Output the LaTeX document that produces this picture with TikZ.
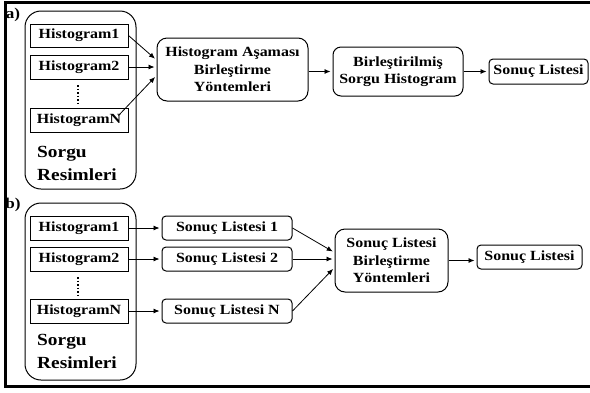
\documentclass[tikz,border=0pt]{standalone}
\usepackage{fontspec}
\setmainfont{Liberation Serif}[FakeStretch=1.14]
\usetikzlibrary{arrows.meta,calc}
\begin{document}
\begin{tikzpicture}[x=1pt,y=-1pt,
  every node/.style={font=\fontsize{14}{17.5}\selectfont\bfseries, align=center, inner sep=0pt},
  hbox/.style={draw, line width=1pt, minimum width=98pt, minimum height=23pt},
  rbox/.style={draw, line width=1pt, rounded corners=4pt},
  bigbox/.style={draw, line width=1pt, rounded corners=10pt},
  groupbox/.style={draw, line width=1pt, rounded corners=16pt, minimum width=111pt},
  bigtext/.style={font=\fontsize{17}{22}\selectfont\bfseries, anchor=base west},
  arr/.style={-{Latex[length=6pt,width=5pt]}, line width=0.8pt, shorten >=2pt},
  dotline/.style={dotted, line width=1.5pt},
]
\useasboundingbox (0,0) rectangle (590,392);
\fill[white] (0,0) rectangle (590,392);
\draw[line width=3pt] (595,2) -- (5,2) -- (5,386.5) -- (595,386.5);

% ---------- a) ----------
\node[font=\fontsize{15}{15}\selectfont\bfseries] (la) at (13,15) {a)};
\node[groupbox, minimum height=178pt] (ga) at (80.5,100) {};
\node[hbox] (H1a) at (79,35.5) {Histogram1};
\node[hbox, minimum height=24pt] (H2a) at (79,67) {Histogram2};
\node[hbox, minimum height=24pt] (HNa) at (79,120) {HistogramN};
\coordinate (da1) at (78,85);
\coordinate (da2) at (78,105);
\draw[dotline] (da1) -- (da2);
\node[bigtext] (sa1) at (37,157) {Sorgu};
\node[bigtext] (sa2) at (37,180) {Resimleri};

\node[bigbox, minimum width=151pt, minimum height=63pt] (HAB) at (232.5,69.5)
  {Histogram Aşaması\\Birleştirme\\Yöntemleri};
\node[bigbox, rounded corners=8pt, minimum width=130pt, minimum height=49pt] (BSH) at (398,71.5)
  {Birleştirilmiş\\Sorgu Histogram};
\node[rbox, minimum width=99pt, minimum height=25pt] (SLa) at (538.5,71.5) {Sonuç Listesi};

\draw[arr] (H1a.east) -- ($(HAB.west)+(0,-9.5)$);
\draw[arr] (H2a.east) -- (H2a.east -| HAB.west);
\draw[arr] ([xshift=-10pt,yshift=-8pt]HNa.north east) -- ($(HAB.west)+(0,6)$);
\draw[arr] (BSH.west -| HAB.east) -- (BSH.west);
\draw[arr] (BSH.east) -- (SLa.west);

% ---------- b) ----------
\node[font=\fontsize{15}{15}\selectfont\bfseries] (lb) at (13,205) {b)};
\node[groupbox, minimum height=177pt] (gb) at (80.5,291.5) {};
\node[hbox, minimum height=24pt] (H1b) at (79,228) {Histogram1};
\node[hbox, minimum height=24pt] (H2b) at (79,259) {Histogram2};
\node[hbox, minimum height=24pt] (HNb) at (79,311) {HistogramN};
\coordinate (db1) at (78,277);
\coordinate (db2) at (78,297);
\draw[dotline] (db1) -- (db2);
\node[bigtext] (sb1) at (37,345) {Sorgu};
\node[bigtext] (sb2) at (37,368) {Resimleri};

\node[rbox, minimum width=130pt, minimum height=24pt] (SL1) at (227,228) {Sonuç Listesi 1};
\node[rbox, minimum width=130pt, minimum height=24pt] (SL2) at (227,259) {Sonuç Listesi 2};
\node[rbox, minimum width=130pt, minimum height=24pt] (SLN) at (227,311) {Sonuç Listesi N};

\node[bigbox, minimum width=113pt, minimum height=63pt] (SLB) at (391.5,260.5)
  {Sonuç Listesi\\Birleştirme\\Yöntemleri};
\node[rbox, minimum width=105pt, minimum height=24pt] (SLf) at (529.5,257) {Sonuç Listesi};

\draw[arr] (H1b.east) -- (SL1.west);
\draw[arr] (H2b.east) -- (SL2.west);
\draw[arr] (HNb.east) -- (SLN.west);
\draw[arr] (SL1.east) -- ($(SLB.west)+(0,-8)$);
\draw[arr] (SL2.east) -- (SL2.east -| SLB.west);
\draw[arr] (SLN.east) -- ($(SLB.west)+(0,7)$);
\draw[arr] (SLB.east) -- (SLB.east -| SLf.west);
\end{tikzpicture}
\end{document}
